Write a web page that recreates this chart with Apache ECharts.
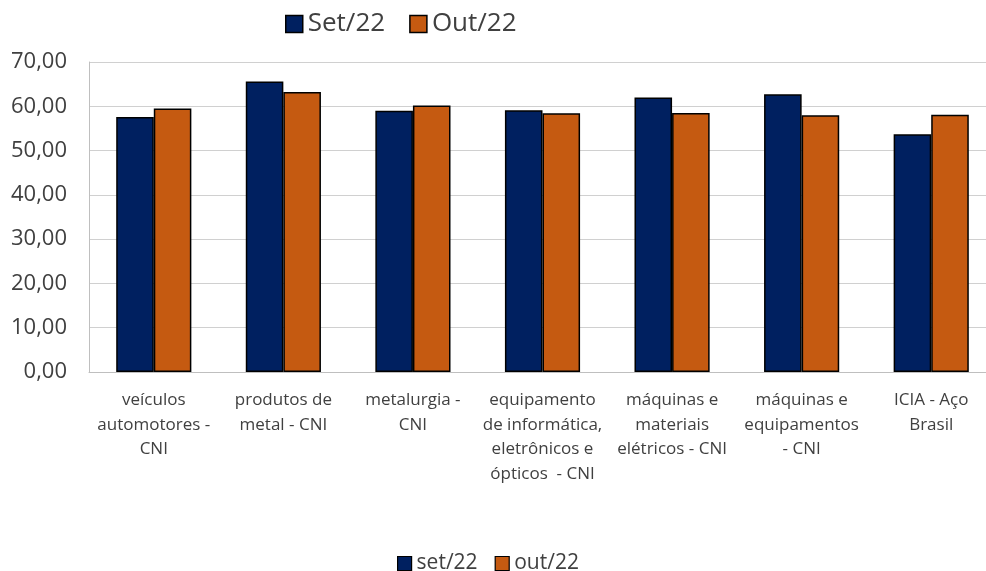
<!DOCTYPE html>
<html>
<head>
<meta charset="utf-8">
<script src="https://cdn.jsdelivr.net/npm/echarts@6/dist/echarts.min.js"></script>
<style>
  html, body { margin: 0; padding: 0; background: #fff; overflow: hidden; }
  #chart { width: 986px; height: 571px; }
</style>
</head>
<body>
<div id="chart"></div>
<script>
// Categories and monthly index values
const categories = [
  'veículos\nautomotores -\nCNI',
  'produtos de\nmetal - CNI',
  'metalurgia -\nCNI',
  'equipamento\nde informática,\neletrônicos e\nópticos  - CNI',
  'máquinas e\nmateriais\nelétricos - CNI',
  'máquinas e\nequipamentos\n- CNI',
  'ICIA - Aço\nBrasil'
];
const seriesNames = ['Set/22', 'Out/22'];
const setValues = [57.6, 65.6, 59.0, 59.1, 62.0, 62.7, 53.7];
const outValues = [59.5, 63.2, 60.2, 58.4, 58.5, 58.0, 58.1];
const yTicks = { min: 0, max: 70, interval: 10 };

const FONT = '"Open Sans", "Noto Sans", sans-serif';
const TEXT = '#404040';

const chart = echarts.init(document.getElementById('chart'), null, { renderer: 'canvas' });
chart.setOption({
  animation: false,
  textStyle: { fontFamily: FONT, color: TEXT },
  legend: [
    {
      data: seriesNames,
      top: 6,
      left: 280,
      itemWidth: 17,
      itemHeight: 17,
      itemGap: 24,
      icon: 'rect',
      itemStyle: { borderColor: '#000', borderWidth: 1.5 },
      textStyle: { fontFamily: FONT, fontSize: 26, color: TEXT }
    },
    {
      data: seriesNames,
      top: 548,
      left: 392,
      itemWidth: 14,
      itemHeight: 14,
      itemGap: 17,
      icon: 'rect',
      itemStyle: { borderColor: '#000', borderWidth: 1.2 },
      formatter: name => name.charAt(0).toLowerCase() + name.slice(1),
      textStyle: { fontFamily: FONT, fontSize: 21, color: TEXT }
    }
  ],
  // the plot area runs slightly past the right edge of the canvas
  grid: {
    left: 89, width: 907, top: 62, height: 310,
    containLabel: false,
    outerBoundsMode: 'none'
  },
  xAxis: {
    type: 'category',
    data: categories,
    axisLine: { show: true, lineStyle: { color: '#BFBFBF', width: 1 } },
    axisTick: { show: false },
    axisLabel: {
      interval: 0,
      fontFamily: FONT,
      fontSize: 17,
      color: TEXT,
      lineHeight: 24.5,
      margin: 16,
      align: 'center',
      verticalAlign: 'top'
    }
  },
  yAxis: {
    type: 'value',
    min: yTicks.min,
    max: yTicks.max,
    interval: yTicks.interval,
    axisLine: { show: true, lineStyle: { color: '#BFBFBF', width: 1 } },
    axisTick: { show: false },
    splitLine: { show: true, lineStyle: { color: '#D0D0D0', width: 1 } },
    axisLabel: {
      fontFamily: FONT,
      fontSize: 22,
      color: TEXT,
      margin: 22,
      formatter: v => v.toFixed(2).replace('.', ',')
    }
  },
  series: [
    {
      name: seriesNames[0],
      type: 'bar',
      data: setValues,
      barGap: '0%',
      barCategoryGap: '42%',
      itemStyle: { color: '#002060', borderColor: '#000', borderWidth: 1.5 }
    },
    {
      name: seriesNames[1],
      type: 'bar',
      data: outValues,
      barGap: '0%',
      barCategoryGap: '42%',
      itemStyle: { color: '#C55A11', borderColor: '#000', borderWidth: 1.5 }
    }
  ]
});
</script>
</body>
</html>
